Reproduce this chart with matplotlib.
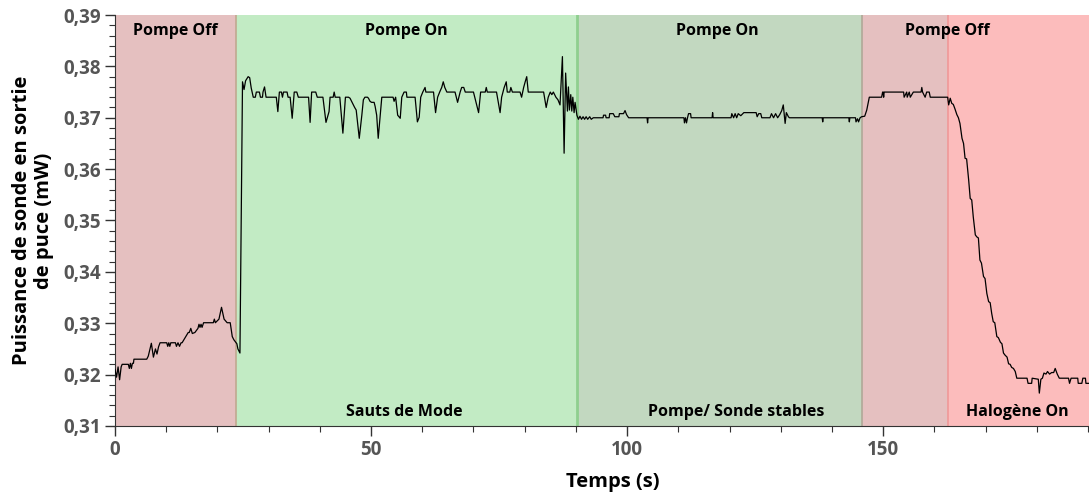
import matplotlib
matplotlib.use("Agg")
import matplotlib.pyplot as plt
from matplotlib.ticker import MultipleLocator, FuncFormatter

plt.rcParams['font.family'] = ['Open Sans', 'DejaVu Sans']

# pompe off, debut
t_off1 = [0, 0.3, 0.6, 0.9, 1.2, 1.4, 2.6, 2.8, 3.0, 3.2, 3.4, 3.6, 3.7, 6.2, 6.5, 7.1, 7.5, 7.9,
          8.2, 8.5, 8.8, 10.1, 10.3, 10.5, 10.7, 10.9, 11.8, 12.0, 12.3, 12.6, 12.9, 13.1, 14.3,
          14.5, 14.8, 15.1, 15.6, 16.2, 16.4, 16.6, 16.8, 17.0, 17.3, 19.2, 19.4, 19.6, 20.3, 20.8,
          21.3, 21.9, 22.5, 22.9, 23.2, 23.8, 24.0, 24.4]
p_off1 = [0.3210, 0.3195, 0.3215, 0.3190, 0.3215, 0.3220, 0.3220, 0.3212, 0.3222, 0.3212, 0.3222,
          0.3222, 0.3230, 0.3230, 0.3236, 0.3261, 0.3234, 0.3250, 0.3240, 0.3254, 0.3262, 0.3262,
          0.3255, 0.3262, 0.3255, 0.3262, 0.3262, 0.3255, 0.3262, 0.3255, 0.3262, 0.3262, 0.3282,
          0.3282, 0.3290, 0.3280, 0.3282, 0.3290, 0.3298, 0.3292, 0.3298, 0.3292, 0.3301, 0.3301,
          0.3308, 0.3301, 0.3308, 0.3331, 0.3308, 0.3301, 0.3301, 0.3274, 0.3268, 0.3260, 0.3250,
          0.3242]

# pompe on, sauts de mode
t_on1 = [24.9, 25.2, 25.5, 26.0, 26.3, 26.6, 27.0, 27.4, 27.6, 28.2, 28.4, 28.8, 28.9, 29.2, 29.5,
         31.5, 31.8, 32.1, 32.5, 32.7, 32.9, 33.6, 33.8, 34.2, 34.6, 35.0, 35.5, 35.8, 37.8, 38.1,
         38.4, 39.2, 39.5, 40.6, 41.2, 41.8, 42.0, 42.6, 42.8, 43.0, 43.9, 44.5, 45.0, 45.6, 45.9,
         46.3, 46.8, 47.1, 47.7, 48.2, 48.5, 48.8, 49.3, 49.5, 49.8, 50.1, 50.6, 50.8, 51.1, 51.4,
         51.8, 52.1, 54.3, 54.5, 54.8, 55.2, 55.7, 56.0, 56.45, 56.9, 57.0, 58.6, 59.05, 59.4, 59.7,
         60.1, 60.55, 60.7, 62.2, 62.6, 63.0, 63.4, 63.8, 64.1, 64.4, 64.8, 66.4, 66.9, 67.4, 67.7,
         68.1, 68.4, 70.0, 71.0, 71.4, 72.3, 72.5, 72.7, 74.5, 75.2, 75.5, 76.0, 76.4, 76.6, 77.1,
         77.3, 77.6, 79.1, 79.4, 79.8, 80.1, 80.4, 80.7, 83.7, 84.2, 84.6, 85.0, 85.3, 85.6, 86.1,
         86.5, 86.9, 87.37, 87.7, 88.0, 88.35, 88.54, 88.74, 89.0, 89.2, 89.4, 89.65, 89.84]
p_on1 = [0.3770, 0.3755, 0.3772, 0.3780, 0.3778, 0.3758, 0.3740, 0.3740, 0.3750, 0.3750, 0.3740,
         0.3740, 0.3750, 0.3760, 0.3740, 0.3740, 0.3712, 0.3750, 0.3750, 0.3740, 0.3750, 0.3750,
         0.3740, 0.3740, 0.3699, 0.3750, 0.3750, 0.3740, 0.3740, 0.3691, 0.3750, 0.3750, 0.3740,
         0.3740, 0.3691, 0.3712, 0.3740, 0.3740, 0.3750, 0.3740, 0.3740, 0.3670, 0.3740, 0.3740,
         0.3738, 0.3730, 0.3720, 0.3715, 0.3660, 0.3705, 0.3735, 0.3740, 0.3740, 0.3738, 0.3732,
         0.3730, 0.3730, 0.3722, 0.3705, 0.3660, 0.3705, 0.3740, 0.3740, 0.3732, 0.3740, 0.3705,
         0.3699, 0.3740, 0.3750, 0.3750, 0.3740, 0.3740, 0.3692, 0.3701, 0.3740, 0.3750, 0.3759,
         0.3750, 0.3750, 0.3710, 0.3740, 0.3750, 0.3759, 0.3770, 0.3759, 0.3750, 0.3750, 0.3730,
         0.3750, 0.3759, 0.3759, 0.3750, 0.3750, 0.3710, 0.3750, 0.3750, 0.3759, 0.3750, 0.3750,
         0.3710, 0.3740, 0.3759, 0.3770, 0.3750, 0.3750, 0.3759, 0.3750, 0.3750, 0.3740, 0.3759,
         0.3770, 0.3780, 0.3750, 0.3750, 0.3720, 0.3740, 0.3750, 0.3745, 0.3750, 0.3740, 0.3735,
         0.3725, 0.3819, 0.3631, 0.3787, 0.3713, 0.3760, 0.3715, 0.3745, 0.3713, 0.3740, 0.3710,
         0.3730]

# pompe on, stable
t_on2 = [90.2, 90.5, 90.8, 91.1, 91.4, 91.7, 92.0, 92.3, 92.7, 93.0, 93.4, 95.3, 95.4, 95.8, 95.9,
         96.5, 96.6, 97.3, 97.6, 98.4, 98.5, 99.3, 99.6, 99.9, 100.3, 103.9, 104.0, 104.1, 111.1,
         111.2, 111.4, 111.6, 111.8, 112.0, 112.4, 112.5, 116.6, 116.7, 116.8, 120.3, 120.45, 120.8,
         121.1, 121.4, 121.7, 122.2, 122.8, 125.2, 125.4, 125.7, 126.1, 126.3, 127.9, 128.2, 128.6,
         129.0, 129.4, 129.8, 130.2, 130.5, 130.86, 131.1, 131.5, 131.7, 138.1, 138.2, 138.3, 143.3,
         143.4, 143.5, 144.6, 144.7, 145.0, 145.2, 145.5]
p_on2 = [0.3705, 0.3697, 0.3703, 0.3697, 0.3702, 0.3697, 0.3702, 0.3697, 0.3702, 0.3697, 0.3700,
         0.3700, 0.3705, 0.3705, 0.3700, 0.3700, 0.3708, 0.3708, 0.3702, 0.3702, 0.3708, 0.3708,
         0.3714, 0.3706, 0.3700, 0.3700, 0.3690, 0.3700, 0.3700, 0.3690, 0.3700, 0.3690, 0.3700,
         0.3708, 0.3708, 0.3700, 0.3700, 0.3710, 0.3700, 0.3700, 0.3708, 0.3700, 0.3708, 0.3700,
         0.3708, 0.3704, 0.3710, 0.3710, 0.3702, 0.3708, 0.3708, 0.3700, 0.3700, 0.3708, 0.3700,
         0.3708, 0.3700, 0.3706, 0.3714, 0.3725, 0.3689, 0.3710, 0.3702, 0.3700, 0.3700, 0.3692,
         0.3700, 0.3700, 0.3692, 0.3700, 0.3700, 0.3692, 0.3698, 0.3692, 0.3700]

# pompe off, fin
t_off2 = [145.8, 146.4, 146.8, 147.3, 149.7, 149.9, 150.0, 150.1, 150.2, 154.0, 154.1, 154.6, 154.7,
          155.1, 155.3, 155.9, 156.25, 157.4, 157.55, 157.7, 158.2, 158.5, 159.0, 159.2, 162.5]
p_off2 = [0.3702, 0.3703, 0.3715, 0.3740, 0.3740, 0.3750, 0.3750, 0.3740, 0.3750, 0.3750, 0.3740,
          0.3750, 0.3740, 0.3750, 0.3740, 0.3750, 0.3750, 0.3750, 0.3759, 0.3750, 0.3740, 0.3750,
          0.3750, 0.3740, 0.3740]

# halogene on
t_hal = [162.6, 162.8, 163.1, 163.4, 163.7, 164.0, 164.4, 164.7, 165.0, 165.4, 165.7, 166.0, 166.3,
         166.7, 167.0, 167.3, 167.6, 168.0, 168.3, 168.6, 168.9, 169.2, 169.6, 169.9, 170.25, 170.6,
         170.9, 171.2, 171.5, 171.8, 172.2, 172.5, 172.9, 173.2, 173.5, 173.8, 174.2, 174.5, 174.8,
         175.1, 175.45, 175.8, 176.1, 178.1, 178.3, 179.0, 179.1, 180.3, 180.5, 180.8, 181.1, 181.4,
         181.8, 182.1, 182.5, 182.9, 183.3, 183.6, 184.0, 184.4, 186.2, 186.4, 186.7, 188.0, 188.1,
         188.8, 189.0, 189.5, 189.6, 190.2]
p_hal = [0.3740, 0.3725, 0.3738, 0.3728, 0.3726, 0.3718, 0.3706, 0.3700, 0.3689, 0.3660, 0.3650,
         0.3621, 0.3620, 0.3579, 0.3543, 0.3540, 0.3507, 0.3472, 0.3468, 0.3466, 0.3423, 0.3417,
         0.3391, 0.3387, 0.3358, 0.3342, 0.3340, 0.3319, 0.3303, 0.3301, 0.3274, 0.3272, 0.3263,
         0.3260, 0.3242, 0.3238, 0.3234, 0.3221, 0.3220, 0.3214, 0.3212, 0.3206, 0.3193, 0.3193,
         0.3183, 0.3183, 0.3193, 0.3191, 0.3164, 0.3191, 0.3193, 0.3203, 0.3201, 0.3206, 0.3201,
         0.3204, 0.3204, 0.3212, 0.3201, 0.3193, 0.3193, 0.3183, 0.3193, 0.3193, 0.3183, 0.3183,
         0.3193, 0.3193, 0.3183, 0.3183]

# zones: debut, fin, couleur, couleur du bord
zones_start = [0, 23.6, 90.2, 145.9, 162.6]
zones_end = [23.6, 90.2, 145.9, 162.6, 190.2]
zones_color = ['#e5c0c0', '#c2ebc4', '#c2d8c0', '#e5c0c0', '#fcbcbc']
zones_edge = ['#c0a890', '#8fcf8f', '#b0a898', '#f09898', None]

top_labels = ['Pompe Off', 'Pompe On', 'Pompe On', 'Pompe Off']
top_pos = [11.8, 56.9, 117.6, 162.6]
bottom_labels = ['Sauts de Mode', 'Pompe/ Sonde stables', 'Halogène On']
bottom_pos = [56.5, 121.3, 176.2]

t = t_off1 + t_on1 + t_on2 + t_off2 + t_hal
p = p_off1 + p_on1 + p_on2 + p_off2 + p_hal

fig = plt.figure(figsize=(10.89, 4.94), dpi=100)
ax = fig.add_axes([0.1056, 0.1377, 0.8944, 0.8319])

for a, b, c, e in zip(zones_start, zones_end, zones_color, zones_edge):
    ax.axvspan(a, b, color=c, lw=0, zorder=0)
    if e:
        ax.axvline(b, color=e, lw=2 if e == '#8fcf8f' else 1.2, zorder=1)

ax.plot(t, p, color='black', lw=0.9, zorder=3)

for lab, x in zip(top_labels, top_pos):
    ax.text(x, 0.3869, lab, ha='center', va='center', fontsize=11.5, fontweight='bold', zorder=4)
for lab, x in zip(bottom_labels, bottom_pos):
    ax.text(x, 0.3128, lab, ha='center', va='center', fontsize=11.5, fontweight='bold', zorder=4)

ax.set_xlim(0, 190.2)
ax.set_ylim(0.31, 0.39)
ax.xaxis.set_major_locator(MultipleLocator(50))
ax.xaxis.set_minor_locator(MultipleLocator(10))
ax.yaxis.set_major_locator(MultipleLocator(0.01))
ax.yaxis.set_minor_locator(MultipleLocator(0.002))
ax.yaxis.set_major_formatter(FuncFormatter(lambda v, pos: ('%.2f' % v).replace('.', ',')))

ax.tick_params(which='major', length=7, width=1, colors='#333333', labelcolor='#555555',
               labelsize=13.5, pad=3)
ax.tick_params(which='minor', length=4, width=0.8, colors='#333333')
for lab in ax.get_xticklabels() + ax.get_yticklabels():
    lab.set_fontweight('bold')

ax.spines['top'].set_visible(False)
ax.spines['right'].set_visible(False)
ax.spines['left'].set_color('#333333')
ax.spines['bottom'].set_color('#333333')

ax.set_xlabel('Temps (s)', fontsize=14.5, fontweight='bold', labelpad=9)
ax.xaxis.label.set_x(0.511)
ax.set_ylabel('Puissance de sonde en sortie\nde puce (mW)', fontsize=14.5, fontweight='bold',
              labelpad=7, linespacing=1.1)

fig.savefig('out.png', dpi=100)
